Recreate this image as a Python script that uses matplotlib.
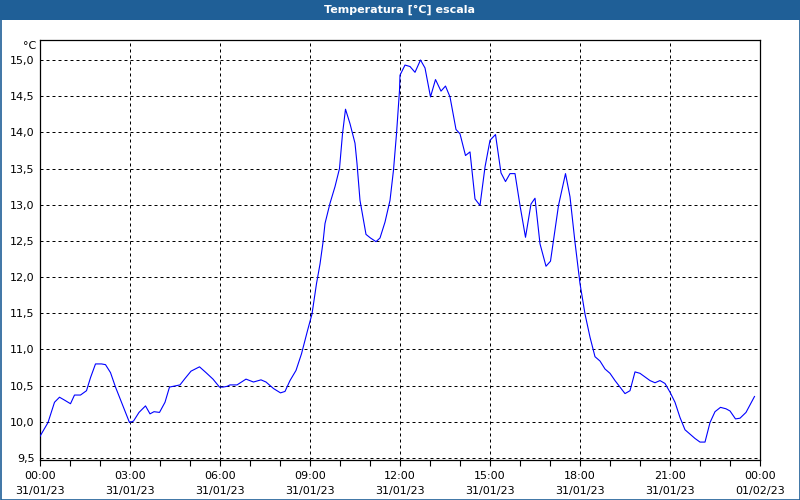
import matplotlib
matplotlib.use("Agg")
import matplotlib.pyplot as plt
from matplotlib.patches import Rectangle
from matplotlib.ticker import FixedLocator, FuncFormatter

# ---- data (minutes after 00:00 on 31/01/23, temperature in °C) ----
minutes = [0, 16, 29, 39, 49, 61, 69, 81, 93, 101, 111, 123, 131, 141, 151, 159, 171, 179,
           187, 198, 211, 220, 228, 239, 250, 259, 280, 289, 302, 319, 332, 346, 359, 366, 374,
           380, 394, 412, 427, 442, 452, 467, 481, 490, 500, 512, 523, 535, 544, 553, 560, 566,
           570, 580, 590, 599, 605, 611, 620, 630, 634, 640, 652, 661, 672, 680, 690, 700, 707,
           713, 719,
           720, 730, 740, 750, 761, 770, 781, 791, 802, 811, 820, 832, 840, 851, 860, 870, 880,
           890, 900, 911, 922, 931, 940, 950, 960, 971, 982, 990, 1000, 1012, 1021, 1037, 1051,
           1060,
           1070, 1080, 1090, 1100, 1110, 1120, 1130, 1140, 1150, 1160, 1170, 1180, 1190, 1200,
           1210, 1220, 1230, 1240, 1250, 1260, 1270, 1280, 1290, 1300, 1310, 1320, 1330, 1340,
           1350, 1361, 1372, 1380, 1391, 1400, 1412, 1429]
temps = [9.80, 9.99, 10.27, 10.34, 10.30, 10.25, 10.37, 10.37, 10.43, 10.61, 10.80, 10.80,
         10.79, 10.68, 10.48, 10.34, 10.13, 9.99,
         10.01, 10.13, 10.22, 10.11, 10.14, 10.13, 10.27, 10.48, 10.51, 10.59, 10.70, 10.76,
         10.68, 10.59, 10.48, 10.48, 10.49,
         10.51, 10.51, 10.59, 10.55, 10.58, 10.55, 10.46, 10.40, 10.42, 10.57, 10.71, 10.94,
         11.26, 11.49, 11.91, 12.18, 12.48,
         12.74, 13.02, 13.25, 13.50, 13.98, 14.32, 14.12, 13.85, 13.57, 13.06, 12.59, 12.54,
         12.49, 12.54, 12.76, 13.06, 13.48,
         13.98, 14.58,
         14.79, 14.93, 14.91, 14.83, 15.00, 14.89, 14.49, 14.73, 14.57, 14.64, 14.49, 14.04,
         13.98, 13.68, 13.73, 13.08, 12.99,
         13.52, 13.89, 13.97, 13.44, 13.32, 13.43, 13.43, 12.99, 12.55, 13.01, 13.09, 12.46,
         12.15, 12.22, 12.99, 13.43,
         13.11,
         12.48, 11.91, 11.49, 11.17, 10.90, 10.84, 10.73, 10.67, 10.57, 10.48, 10.39, 10.43,
         10.69, 10.67,
         10.62, 10.57, 10.54, 10.57, 10.53, 10.41, 10.27, 10.06, 9.89, 9.83, 9.77, 9.72,
         9.72, 9.99, 10.14, 10.20, 10.18, 10.15, 10.04, 10.05, 10.13, 10.35]

x_tick_minutes = [0, 180, 360, 540, 720, 900, 1080, 1260, 1440]
x_tick_labels = ["00:00\n31/01/23", "03:00\n31/01/23", "06:00\n31/01/23", "09:00\n31/01/23",
                 "12:00\n31/01/23", "15:00\n31/01/23", "18:00\n31/01/23", "21:00\n31/01/23",
                 "00:00\n01/02/23"]
y_ticks = [9.5, 10.0, 10.5, 11.0, 11.5, 12.0, 12.5, 13.0, 13.5, 14.0, 14.5, 15.0]
title = "Temperatura [°C] escala"
unit = "°C"

plt.rcParams['font.family'] = ['DejaVu Sans']
W, H = 800, 500
fig = plt.figure(figsize=(8, 5), dpi=100, facecolor='white')

# title bar
fig.patches.append(Rectangle((0, 1 - 20 / H), 1, 20 / H, transform=fig.transFigure,
                             facecolor='#1F5F97', edgecolor='none', zorder=0))
fig.text(0.5, 1 - 10 / H, title, color='white', fontsize=8, fontweight='bold',
         ha='center', va='center')
# window border
fig.patches.append(Rectangle((0.5 / W, 0.5 / H), 1 - 1 / W, 1 - 1 / H, transform=fig.transFigure,
                             facecolor='none', edgecolor='#1F5F97', linewidth=1.2, zorder=5))

ax = fig.add_axes([40 / W, 40 / H, 720 / W, 420 / H])
ax.set_facecolor('white')
ax.plot(minutes, temps, color='#0000FF', linewidth=0.8, zorder=3)

ax.set_xlim(0, 1440)
ax.set_ylim(9.5 - 2 / 72.36, 15.0 + 20 / 72.36)

ax.xaxis.set_major_locator(FixedLocator(x_tick_minutes))
ax.xaxis.set_minor_locator(FixedLocator(list(range(0, 1441, 60))))
ax.set_xticklabels(x_tick_labels, fontsize=8, linespacing=1.6)
ax.set_yticks(y_ticks)
ax.yaxis.set_major_formatter(FuncFormatter(lambda v, p: f"{v:.1f}".replace('.', ',')))

ax.tick_params(axis='x', which='both', direction='out', length=4, width=0.8, pad=4,
               colors='black', labelsize=8)
ax.tick_params(axis='y', which='both', length=0, pad=4, labelsize=8, colors='black')

ax.grid(True, which='major', color='black', linestyle=(0, (3, 3)), linewidth=0.72)
for s in ax.spines.values():
    s.set_color('black')
    s.set_linewidth(0.9)

fig.text(36 / W, 1 - 46 / H, unit, fontsize=8, ha='right', va='center', color='black')

fig.savefig('out.png', dpi=100, facecolor='white')
